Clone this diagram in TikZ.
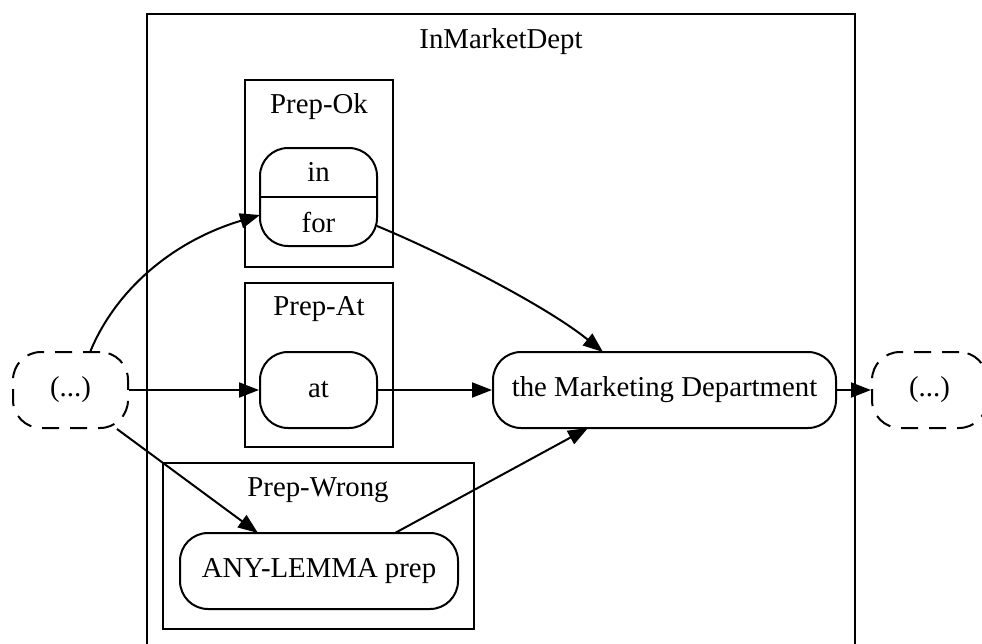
\documentclass[tikz,border=0pt]{standalone}
\usepackage{fontspec}
\setmainfont{Liberation Serif}
\usetikzlibrary{arrows.meta}
\tikzset{
  x=1pt, y=-1pt,
  lbl/.style={font=\fontsize{28.8}{30}\selectfont, inner sep=0pt},
  clusterbox/.style={draw, line width=2pt},
  termbox/.style={draw, line width=2pt, rounded corners=28pt, inner sep=0pt, lbl},
  ellipsisbox/.style={draw, line width=2pt, rounded corners=28pt, inner sep=0pt, lbl,
    dash pattern=on 17pt off 11pt, minimum width=115pt, minimum height=76pt},
  edge/.style={line width=2pt, -{Triangle[length=20pt,width=15pt]}},
}
\begin{document}
\begin{tikzpicture}
\useasboundingbox (0,0) rectangle (982,643);
\clip (0,0) rectangle (982,643);

% clusters
\draw[clusterbox] (147,14) rectangle (855,670);
\node[lbl] (tmain) at (501,42) {InMarketDept};
\draw[clusterbox] (245,80) rectangle (393,267);
\node[lbl] (tok) at (319,107) {Prep-Ok};
\draw[clusterbox] (245,283) rectangle (393,447);
\node[lbl] (tat) at (319,309) {Prep-At};
\draw[clusterbox] (163,463) rectangle (474,629);
\node[lbl] (twrong) at (318,490) {Prep-Wrong};

% record node with two fields
\node[termbox, minimum width=117pt, minimum height=98pt] (rec) at (318.5,197) {};
\draw[line width=2pt] (rec.west) -- (rec.east);
\node[lbl] (inlbl) at (318.5,172) {in};
\node[lbl] (forlbl) at (318.5,222) {for};
\coordinate (forW) at (260,215);
\coordinate (forE) at (377,226);

% single nodes
\node[termbox, minimum width=117pt, minimum height=76pt] (at) at (318.5,390) {at};
\node[termbox, minimum width=278pt, minimum height=76pt] (any) at (319,571) {ANY-LEMMA prep};
\node[termbox, minimum width=343pt, minimum height=76pt] (mkt) at (664.5,390) {the Marketing Department};
\node[ellipsisbox] (pre) at (70.5,390) {(...)};
\node[ellipsisbox] (post) at (929.5,390) {(...)};

% connectors
\draw[edge] (pre.north) ++(20,0) coordinate (preN) .. controls (115,292) and (170,242) .. (forW);
\draw[edge] (pre.east) -- (at.west);
\draw[edge] (pre.south east) ++(-12,0) coordinate (preSE) -- (258,533);
\draw[edge] (forE) .. controls (440,252) and (545,305) .. (603,352);
\draw[edge] (at.east) -- (mkt.west);
\draw[edge] (395,533) coordinate (anyN) -- (588,428);
\draw[edge] (mkt.east) -- (post.west);
\end{tikzpicture}
\end{document}
